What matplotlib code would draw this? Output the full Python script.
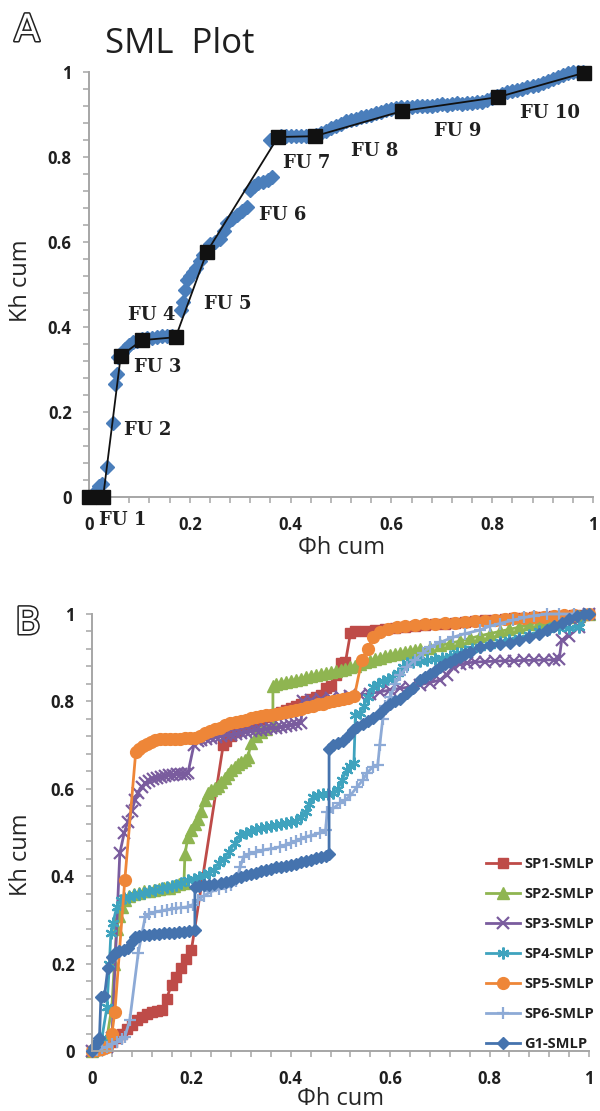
import matplotlib
matplotlib.use("Agg")
import matplotlib.pyplot as plt
import matplotlib.patheffects as pe
from matplotlib.ticker import MultipleLocator, FuncFormatter

plt.rcParams['font.family'] = ['Open Sans', 'DejaVu Sans']

# ---------------- panel A data ----------------
# blue diamonds: cumulative Kh vs cumulative phi-h
sml_points = [
    (0.0, 0.0), (0.01, 0.01), (0.02, 0.025), (0.025, 0.03), (0.035, 0.07), (0.048, 0.175),
    (0.052, 0.265), (0.055, 0.29), (0.058, 0.33), (0.065, 0.34), (0.071, 0.348), (0.08, 0.358),
    (0.088, 0.365), (0.095, 0.368), (0.105, 0.372), (0.115, 0.374), (0.125, 0.375), (0.135, 0.377),
    (0.145, 0.378), (0.155, 0.379), (0.165, 0.378), (0.172, 0.377),
    (0.183, 0.44), (0.187, 0.46), (0.19, 0.487), (0.194, 0.51), (0.2, 0.52), (0.206, 0.53),
    (0.213, 0.54), (0.22, 0.555), (0.227, 0.57), (0.234, 0.585), (0.24, 0.595), (0.25, 0.6),
    (0.26, 0.608), (0.268, 0.625), (0.274, 0.645), (0.283, 0.655), (0.293, 0.664), (0.303, 0.673),
    (0.313, 0.683),
    (0.32, 0.722), (0.327, 0.732), (0.335, 0.739), (0.345, 0.742), (0.355, 0.746), (0.363, 0.752),
    (0.36, 0.84), (0.37, 0.847), (0.38, 0.85), (0.39, 0.85), (0.40, 0.85), (0.41, 0.85),
    (0.42, 0.85), (0.43, 0.85), (0.44, 0.85), (0.45, 0.852), (0.46, 0.857), (0.47, 0.862),
    (0.48, 0.868), (0.49, 0.872), (0.50, 0.878), (0.51, 0.885), (0.52, 0.888), (0.53, 0.89),
    (0.54, 0.893), (0.55, 0.896), (0.56, 0.9), (0.57, 0.903), (0.58, 0.906), (0.59, 0.91),
    (0.60, 0.913), (0.61, 0.916), (0.62, 0.917), (0.63, 0.918), (0.64, 0.917), (0.65, 0.919),
    (0.66, 0.92), (0.67, 0.921), (0.68, 0.92), (0.69, 0.922), (0.70, 0.924), (0.71, 0.923),
    (0.72, 0.925), (0.73, 0.926), (0.74, 0.925), (0.75, 0.927), (0.76, 0.928), (0.77, 0.929),
    (0.78, 0.93), (0.79, 0.933), (0.80, 0.938), (0.81, 0.944), (0.82, 0.948), (0.83, 0.952),
    (0.84, 0.956), (0.85, 0.958), (0.86, 0.961), (0.87, 0.964), (0.88, 0.967), (0.89, 0.97),
    (0.90, 0.974), (0.91, 0.978), (0.92, 0.983), (0.93, 0.988), (0.94, 0.993), (0.95, 0.997),
    (0.96, 0.999), (0.97, 1.0), (0.98, 1.0),
]

# flow unit boundaries (black squares)
fu_bound_x = [0.0, 0.028, 0.063, 0.105, 0.172, 0.234, 0.375, 0.448, 0.621, 0.812, 0.982]
fu_bound_y = [0.0, 0.0, 0.332, 0.369, 0.376, 0.577, 0.847, 0.849, 0.908, 0.941, 0.998]

fu_names = ['FU 1', 'FU 2', 'FU 3', 'FU 4', 'FU 5', 'FU 6', 'FU 7', 'FU 8', 'FU 9', 'FU 10']
fu_text_x = [0.067, 0.117, 0.137, 0.125, 0.276, 0.385, 0.432, 0.567, 0.732, 0.915]
fu_text_y = [-0.054, 0.158, 0.306, 0.428, 0.454, 0.664, 0.786, 0.814, 0.861, 0.904]

# ---------------- panel B data ----------------
series_names = ['SP1-SMLP', 'SP2-SMLP', 'SP3-SMLP', 'SP4-SMLP', 'SP5-SMLP', 'SP6-SMLP', 'G1-SMLP']

sp1 = [
    (0, 0), (0.01, 0.005), (0.02, 0.01), (0.03, 0.015), (0.04, 0.02), (0.05, 0.03), (0.06, 0.04),
    (0.07, 0.05), (0.08, 0.06), (0.09, 0.07), (0.10, 0.078), (0.11, 0.085), (0.12, 0.089),
    (0.13, 0.092), (0.14, 0.094), (0.15, 0.12), (0.16, 0.151), (0.17, 0.17), (0.18, 0.19),
    (0.19, 0.21), (0.20, 0.231), (0.264, 0.70), (0.27, 0.71), (0.28, 0.72), (0.29, 0.73),
    (0.30, 0.74), (0.31, 0.745), (0.32, 0.75), (0.33, 0.755), (0.34, 0.76), (0.35, 0.765),
    (0.36, 0.77), (0.37, 0.772), (0.38, 0.775), (0.39, 0.78), (0.40, 0.785), (0.41, 0.79),
    (0.42, 0.795), (0.43, 0.80), (0.44, 0.805), (0.45, 0.81), (0.46, 0.815), (0.47, 0.83),
    (0.48, 0.835), (0.49, 0.86), (0.50, 0.888), (0.51, 0.89), (0.52, 0.956), (0.53, 0.96),
    (0.55, 0.962), (0.57, 0.964), (0.59, 0.966), (0.61, 0.968), (0.63, 0.97), (0.65, 0.972),
    (0.67, 0.974), (0.69, 0.976), (0.71, 0.978), (0.73, 0.98), (0.75, 0.982), (0.77, 0.984),
    (0.79, 0.986), (0.81, 0.987), (0.83, 0.988), (0.85, 0.99), (0.87, 0.991), (0.89, 0.992),
    (0.91, 0.994), (0.93, 0.995), (0.95, 0.996), (0.97, 0.997), (0.99, 0.998), (1.0, 1.0),
]

sp2 = [
    (0, 0), (0.01, 0.005), (0.02, 0.01), (0.03, 0.03), (0.04, 0.1), (0.045, 0.2), (0.05, 0.28),
    (0.055, 0.31), (0.06, 0.33), (0.066, 0.345), (0.075, 0.355), (0.085, 0.36), (0.095, 0.362),
    (0.105, 0.365), (0.115, 0.367), (0.125, 0.368), (0.135, 0.37), (0.145, 0.372), (0.155, 0.374),
    (0.165, 0.378), (0.175, 0.383), (0.185, 0.385), (0.187, 0.45), (0.193, 0.49), (0.2, 0.505),
    (0.207, 0.52), (0.213, 0.53), (0.22, 0.55), (0.227, 0.575), (0.233, 0.59), (0.24, 0.597),
    (0.247, 0.602), (0.253, 0.606), (0.26, 0.615), (0.267, 0.625), (0.273, 0.635), (0.28, 0.643),
    (0.287, 0.65), (0.293, 0.656), (0.3, 0.662), (0.307, 0.667), (0.314, 0.673), (0.32, 0.705),
    (0.33, 0.72), (0.34, 0.73), (0.35, 0.737), (0.364, 0.745), (0.364, 0.835), (0.37, 0.84),
    (0.38, 0.843), (0.39, 0.845), (0.40, 0.847), (0.41, 0.85), (0.42, 0.852), (0.43, 0.855),
    (0.44, 0.857), (0.45, 0.86), (0.46, 0.862), (0.47, 0.865), (0.48, 0.868), (0.49, 0.87),
    (0.50, 0.872), (0.51, 0.875), (0.52, 0.878), (0.53, 0.882), (0.54, 0.886), (0.55, 0.89),
    (0.56, 0.893), (0.57, 0.897), (0.58, 0.9), (0.59, 0.903), (0.60, 0.906), (0.61, 0.909),
    (0.62, 0.911), (0.63, 0.913), (0.64, 0.915), (0.65, 0.917), (0.66, 0.919), (0.68, 0.923),
    (0.70, 0.928), (0.72, 0.933), (0.74, 0.938), (0.76, 0.944), (0.78, 0.95), (0.80, 0.955),
    (0.82, 0.96), (0.84, 0.965), (0.86, 0.97), (0.88, 0.976), (0.90, 0.982), (0.92, 0.986),
    (0.94, 0.99), (0.96, 0.993), (0.98, 0.996), (1.0, 1.0),
]

sp3 = [
    (0, 0), (0.01, 0.003), (0.02, 0.006), (0.03, 0.01), (0.04, 0.03),
    (0.056, 0.453), (0.065, 0.5), (0.072, 0.524), (0.08, 0.55), (0.087, 0.575), (0.093, 0.59),
    (0.1, 0.603), (0.107, 0.613), (0.115, 0.618), (0.123, 0.622), (0.131, 0.625), (0.139, 0.627),
    (0.147, 0.629), (0.155, 0.631), (0.163, 0.632), (0.171, 0.633), (0.179, 0.634), (0.187, 0.635),
    (0.193, 0.636), (0.205, 0.70), (0.213, 0.71), (0.22, 0.712), (0.23, 0.715), (0.24, 0.717),
    (0.25, 0.719), (0.26, 0.72), (0.27, 0.722), (0.28, 0.724), (0.29, 0.726), (0.30, 0.728),
    (0.31, 0.73), (0.32, 0.732), (0.33, 0.734), (0.34, 0.735), (0.35, 0.737), (0.36, 0.739),
    (0.37, 0.74), (0.38, 0.742), (0.39, 0.744), (0.40, 0.746), (0.41, 0.748), (0.42, 0.75),
    (0.425, 0.80), (0.44, 0.803), (0.46, 0.806), (0.48, 0.808), (0.50, 0.81), (0.52, 0.812),
    (0.54, 0.815), (0.56, 0.818), (0.58, 0.822), (0.60, 0.826), (0.62, 0.83), (0.64, 0.833),
    (0.66, 0.838), (0.68, 0.843), (0.70, 0.849), (0.715, 0.86), (0.727, 0.879), (0.74, 0.885),
    (0.755, 0.888), (0.77, 0.89), (0.79, 0.891), (0.81, 0.892), (0.83, 0.893), (0.85, 0.893),
    (0.87, 0.894), (0.89, 0.894), (0.91, 0.895), (0.93, 0.895), (0.94, 0.896), (0.945, 0.94),
    (0.96, 0.95), (0.98, 0.97), (1.0, 1.0),
]

sp4 = [
    (0, 0), (0.01, 0.01), (0.02, 0.03), (0.03, 0.1), (0.035, 0.2), (0.038, 0.27), (0.042, 0.293),
    (0.05, 0.33), (0.058, 0.345), (0.065, 0.35), (0.075, 0.353), (0.085, 0.356), (0.095, 0.359),
    (0.105, 0.362), (0.115, 0.365), (0.127, 0.368), (0.14, 0.372), (0.15, 0.375), (0.16, 0.378),
    (0.17, 0.381), (0.18, 0.385), (0.193, 0.391), (0.205, 0.394), (0.215, 0.398), (0.225, 0.402),
    (0.235, 0.408), (0.245, 0.415), (0.255, 0.43), (0.265, 0.44), (0.275, 0.455), (0.288, 0.476),
    (0.298, 0.495), (0.31, 0.5), (0.32, 0.504), (0.33, 0.507), (0.34, 0.51), (0.35, 0.513),
    (0.36, 0.515), (0.37, 0.517), (0.38, 0.519), (0.39, 0.521), (0.40, 0.523), (0.41, 0.527),
    (0.42, 0.535), (0.43, 0.548), (0.437, 0.565), (0.445, 0.581), (0.455, 0.585), (0.465, 0.587),
    (0.475, 0.589), (0.485, 0.59), (0.495, 0.6), (0.503, 0.62), (0.513, 0.643), (0.52, 0.652),
    (0.527, 0.659), (0.53, 0.77), (0.539, 0.773), (0.547, 0.79), (0.555, 0.81), (0.565, 0.833),
    (0.575, 0.84), (0.585, 0.847), (0.595, 0.852), (0.606, 0.856), (0.615, 0.865), (0.625, 0.878),
    (0.634, 0.888), (0.645, 0.89), (0.66, 0.892), (0.675, 0.895), (0.69, 0.898), (0.705, 0.9),
    (0.72, 0.905), (0.735, 0.91), (0.75, 0.915), (0.765, 0.92), (0.78, 0.925), (0.80, 0.93),
    (0.82, 0.935), (0.84, 0.94), (0.86, 0.945), (0.88, 0.952), (0.90, 0.96), (0.92, 0.965),
    (0.94, 0.968), (0.96, 0.968), (0.98, 0.97), (1.0, 1.0),
]

sp5 = [
    (0, 0), (0.01, 0.002), (0.02, 0.005), (0.03, 0.01), (0.04, 0.04), (0.046, 0.089),
    (0.066, 0.391), (0.088, 0.684), (0.095, 0.69), (0.103, 0.697),
    (0.11, 0.703), (0.118, 0.707), (0.127, 0.712), (0.137, 0.713), (0.147, 0.714), (0.157, 0.714),
    (0.167, 0.715), (0.177, 0.715), (0.187, 0.716), (0.197, 0.716), (0.207, 0.717), (0.217, 0.72),
    (0.227, 0.728), (0.237, 0.733), (0.247, 0.737), (0.257, 0.74), (0.267, 0.745), (0.277, 0.75),
    (0.29, 0.752), (0.30, 0.755), (0.31, 0.758), (0.32, 0.762), (0.33, 0.764), (0.34, 0.766),
    (0.35, 0.768), (0.36, 0.77), (0.37, 0.772), (0.38, 0.774), (0.39, 0.776), (0.40, 0.778),
    (0.41, 0.78), (0.42, 0.783), (0.433, 0.787), (0.445, 0.79), (0.455, 0.793), (0.465, 0.795),
    (0.475, 0.798), (0.485, 0.8), (0.495, 0.803), (0.505, 0.806), (0.515, 0.808), (0.528, 0.812),
    (0.543, 0.895), (0.555, 0.92), (0.565, 0.947), (0.58, 0.958), (0.595, 0.965),
    (0.614, 0.97), (0.63, 0.972), (0.65, 0.974), (0.67, 0.976), (0.69, 0.978), (0.71, 0.979),
    (0.73, 0.98), (0.75, 0.981), (0.77, 0.983), (0.79, 0.985), (0.81, 0.987), (0.83, 0.989),
    (0.85, 0.99), (0.87, 0.991), (0.89, 0.992), (0.91, 0.994), (0.93, 0.995), (0.95, 0.997),
    (0.97, 0.998), (1.0, 1.0),
]

sp6 = [
    (0, 0), (0.01, 0.003), (0.02, 0.006), (0.03, 0.01), (0.04, 0.015), (0.05, 0.02), (0.06, 0.027),
    (0.066, 0.032), (0.076, 0.071), (0.093, 0.224), (0.107, 0.307),
    (0.115, 0.313), (0.127, 0.318), (0.14, 0.321), (0.15, 0.323), (0.16, 0.325), (0.17, 0.327),
    (0.18, 0.328), (0.193, 0.33), (0.203, 0.335), (0.213, 0.345), (0.225, 0.355), (0.24, 0.365),
    (0.255, 0.37), (0.27, 0.375), (0.28, 0.38), (0.29, 0.39), (0.298, 0.42), (0.305, 0.445),
    (0.315, 0.45), (0.33, 0.455), (0.345, 0.46), (0.36, 0.463), (0.378, 0.467), (0.39, 0.472),
    (0.40, 0.476), (0.41, 0.48), (0.42, 0.485), (0.43, 0.49), (0.44, 0.493), (0.459, 0.499),
    (0.47, 0.505), (0.473, 0.547), (0.485, 0.555), (0.499, 0.567), (0.51, 0.575), (0.52, 0.585),
    (0.533, 0.604), (0.545, 0.62), (0.553, 0.636), (0.565, 0.65), (0.575, 0.655), (0.579, 0.70),
    (0.585, 0.76), (0.59, 0.79), (0.6, 0.81), (0.61, 0.84), (0.62, 0.86), (0.634, 0.879),
    (0.65, 0.895), (0.665, 0.91), (0.68, 0.925), (0.70, 0.935), (0.727, 0.947), (0.75, 0.955),
    (0.78, 0.963), (0.80, 0.972), (0.82, 0.978), (0.847, 0.986), (0.87, 0.992), (0.89, 0.996),
    (0.915, 1.0), (0.94, 1.0), (0.97, 1.0), (1.0, 1.0),
]

g1 = [
    (0, 0), (0.005, 0.01), (0.01, 0.02), (0.015, 0.03), (0.018, 0.124), (0.025, 0.125),
    (0.032, 0.19), (0.04, 0.215), (0.046, 0.224), (0.055, 0.228), (0.065, 0.231), (0.072, 0.235),
    (0.08, 0.25), (0.086, 0.261), (0.095, 0.263), (0.105, 0.265), (0.115, 0.266), (0.125, 0.267),
    (0.135, 0.268), (0.145, 0.269), (0.155, 0.27), (0.165, 0.271), (0.175, 0.272), (0.185, 0.273),
    (0.195, 0.275), (0.207, 0.277), (0.207, 0.375), (0.215, 0.378), (0.225, 0.38), (0.235, 0.381),
    (0.245, 0.382), (0.26, 0.384), (0.27, 0.387), (0.28, 0.39), (0.29, 0.395), (0.30, 0.398),
    (0.31, 0.402), (0.32, 0.405), (0.33, 0.408), (0.34, 0.411), (0.35, 0.414), (0.36, 0.417),
    (0.37, 0.42), (0.38, 0.422), (0.39, 0.424), (0.40, 0.426), (0.41, 0.429), (0.42, 0.432),
    (0.43, 0.435), (0.44, 0.438), (0.45, 0.441), (0.46, 0.444), (0.47, 0.447), (0.477, 0.45),
    (0.477, 0.69), (0.485, 0.70), (0.495, 0.705), (0.505, 0.71), (0.515, 0.72), (0.525, 0.735),
    (0.533, 0.741), (0.545, 0.748), (0.555, 0.755), (0.565, 0.762), (0.579, 0.773), (0.59, 0.785),
    (0.60, 0.795), (0.61, 0.8), (0.62, 0.806), (0.634, 0.819), (0.645, 0.83), (0.66, 0.849),
    (0.67, 0.855), (0.68, 0.862), (0.69, 0.87), (0.70, 0.878), (0.71, 0.885), (0.72, 0.89),
    (0.73, 0.896), (0.74, 0.902), (0.75, 0.908), (0.76, 0.914), (0.78, 0.925), (0.80, 0.93),
    (0.82, 0.932), (0.841, 0.934), (0.86, 0.94), (0.88, 0.948), (0.90, 0.955), (0.915, 0.963),
    (0.93, 0.972), (0.945, 0.98), (0.96, 0.988), (0.976, 0.995), (0.99, 1.0), (1.0, 1.0),
]

all_series = [sp1, sp2, sp3, sp4, sp5, sp6, g1]
colors = ['#BE4B48', '#8FB551', '#7A5C9E', '#3FA3BE', '#EE8638', '#8DAAD6', '#4573AE']
markers = ['s', '^', 'x', (6, 2, 0), 'o', '+', 'D']
msizes = [7.5, 8, 8, 8.5, 8.5, 9, 6.5]

AXIS_GRAY = '#a6a6a6'
TEXT_DARK = '#1f1f1f'


def style_axes(ax):
    for side in ['top', 'right']:
        ax.spines[side].set_visible(False)
    for side in ['left', 'bottom']:
        ax.spines[side].set_color(AXIS_GRAY)
        ax.spines[side].set_linewidth(1.4)
    ax.set_xlim(0, 1)
    ax.set_ylim(0, 1)
    ax.xaxis.set_major_locator(MultipleLocator(0.2))
    ax.yaxis.set_major_locator(MultipleLocator(0.2))
    ax.xaxis.set_minor_locator(MultipleLocator(0.04))
    ax.yaxis.set_minor_locator(MultipleLocator(0.04))
    fmt = FuncFormatter(lambda v, p: f"{v:g}")
    ax.xaxis.set_major_formatter(fmt)
    ax.yaxis.set_major_formatter(fmt)
    ax.tick_params(which='both', direction='out', length=4, width=1.1, color=AXIS_GRAY)
    ax.tick_params(axis='y', which='major', pad=8.5, labelsize=12, labelcolor=TEXT_DARK)
    ax.tick_params(axis='x', which='major', pad=10, labelsize=12, labelcolor=TEXT_DARK)
    for lab in ax.get_xticklabels() + ax.get_yticklabels():
        lab.set_fontweight('bold')


def panel_letter(fig, x, y, letter):
    fig.text(x / 600, 1 - y / 1111, letter, fontsize=27, color='white', ha='center', va='center',
             family=['DejaVu Sans'],
             path_effects=[pe.Stroke(linewidth=2.2, foreground='#222222'), pe.Normal()])


fig = plt.figure(figsize=(6, 11.11), dpi=100)

# ---------------- panel A ----------------
ax1 = fig.add_axes([89 / 600, 1 - 497 / 1111, (593 - 89) / 600, (497 - 72) / 1111])
style_axes(ax1)
bx = [p[0] for p in sml_points]
by = [p[1] for p in sml_points]
ax1.plot(bx, by, linestyle='none', marker='D', ms=7, color='#4A7EBB', mec='#4A7EBB', clip_on=False, zorder=3)
ax1.plot(fu_bound_x, fu_bound_y, color='#111111', lw=1.3, marker='s', ms=10, mfc='#111111',
         mec='#111111', clip_on=False, zorder=4)
for name, tx, ty in zip(fu_names, fu_text_x, fu_text_y):
    ax1.text(tx, ty, name, fontsize=13, fontweight='bold', family=['DejaVu Serif'], color=TEXT_DARK,
             ha='center', va='center', clip_on=False, zorder=5)
ax1.set_ylabel('Kh cum', fontsize=17, color='#262626')
ax1.set_xlabel('Φh cum', fontsize=17, color='#262626', va='center')
ax1.yaxis.set_label_coords(-0.135, 0.51)
ax1.xaxis.set_label_coords(0.5, -0.12)
ax1.yaxis.label.set_va('center')
fig.text(105 / 600, 1 - 44 / 1111, 'SML  Plot', fontsize=25, color=TEXT_DARK, ha='left', va='center')
panel_letter(fig, 27, 31, 'A')

# ---------------- panel B ----------------
ax2 = fig.add_axes([92 / 600, 1 - 1051 / 1111, (589 - 92) / 600, (1051 - 614) / 1111])
style_axes(ax2)
handles = []
for data, name, col, mk, msz in zip(all_series, series_names, colors, markers, msizes):
    xs = [p[0] for p in data]
    ys = [p[1] for p in data]
    mew = 1.6 if mk in ('x', '+', (6, 2, 0)) else 1.0
    h, = ax2.plot(xs, ys, color=col, lw=2.0, marker=mk, ms=msz, mfc=col, mec=col, mew=mew,
                  clip_on=False, label=name)
    handles.append(h)
ax2.set_ylabel('Kh cum', fontsize=17, color='#262626')
ax2.set_xlabel('Φh cum', fontsize=17, color='#262626', va='center')
ax2.yaxis.set_label_coords(-0.143, 0.449)
ax2.xaxis.set_label_coords(0.5, -0.11)
ax2.yaxis.label.set_va('center')

leg = ax2.legend(handles=handles, loc='upper left', bbox_to_anchor=(486 / 600, 1 - 857 / 1111),
                 bbox_transform=fig.transFigure, frameon=False, borderpad=0, borderaxespad=0,
                 handlelength=2.3, handletextpad=0.3, labelspacing=1.1, numpoints=1,
                 prop={'size': 10.5, 'weight': 'bold'})
for t in leg.get_texts():
    t.set_color(TEXT_DARK)
panel_letter(fig, 28, 624, 'B')

fig.savefig('out.png', dpi=100)
